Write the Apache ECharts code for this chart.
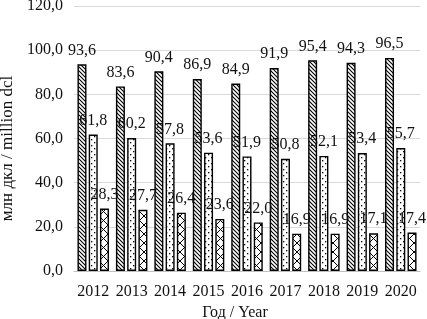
<!DOCTYPE html>
<html><head><meta charset="utf-8">
<script src="https://cdn.jsdelivr.net/npm/echarts@6/dist/echarts.min.js"></script>
<style>html,body{margin:0;padding:0;background:#fff}#c{width:427px;height:319px}</style>
</head><body><div id="c"></div>
<script>
var years = ['2012','2013','2014','2015','2016','2017','2018','2019','2020'];
var seriesA = [93.6, 83.6, 90.4, 86.9, 84.9, 91.9, 95.4, 94.3, 96.5];
var seriesB = [61.8, 60.2, 57.8, 53.6, 51.9, 50.8, 52.1, 53.4, 55.7];
var seriesC = [28.3, 27.7, 26.4, 23.6, 22.0, 16.9, 16.9, 17.1, 17.4];
var yTicks = [0, 20, 40, 60, 80, 100, 120];

function mk(w, h, draw) {
  var c = document.createElement('canvas'); c.width = w; c.height = h;
  var g = c.getContext('2d'); g.fillStyle = '#fff'; g.fillRect(0, 0, w, h);
  g.strokeStyle = '#000'; g.fillStyle = '#000'; draw(g); return c;
}
var hatch = mk(4, 4, function (g) {
  g.lineWidth = 1.1; g.beginPath();
  g.moveTo(-1, -1); g.lineTo(5, 5);
  g.moveTo(-1, 3); g.lineTo(1, 5);
  g.moveTo(3, -1); g.lineTo(5, 1);
  g.stroke();
});
var dots = mk(6, 6, function (g) {
  g.fillRect(1, 1, 1.3, 1.3); g.fillRect(4, 4, 1.3, 1.3);
});
var cross = mk(9, 9, function (g) {
  g.lineWidth = 1; g.beginPath();
  g.moveTo(0, 0); g.lineTo(9, 9); g.moveTo(9, 0); g.lineTo(0, 9); g.stroke();
});

var font = "'Liberation Serif','Times New Roman',serif";
function fmt(v) { return Number(v).toFixed(1).replace('.', ','); }
function mkSeries(data, pat) {
  return {
    type: 'bar', data: data, barWidth: 9, barGap: '25%',
    itemStyle: { color: { image: pat, repeat: 'repeat' }, borderColor: '#000', borderWidth: 1.4 },
    label: { show: true, position: 'top', distance: 6, color: '#111', fontFamily: font, fontSize: 16,
      formatter: function (p) { return fmt(p.value); } }
  };
}
var chart = echarts.init(document.getElementById('c'), null, { renderer: 'canvas' });
chart.setOption({
  animation: false,
  backgroundColor: '#fff',
  grid: { left: 74, right: 7, top: 6, bottom: 48, containLabel: false, outerBoundsMode: 'none' },
  xAxis: {
    type: 'category', data: years,
    name: 'Год / Year', nameLocation: 'middle', nameGap: 34,
    nameTextStyle: { fontFamily: font, fontSize: 16, color: '#111', padding: [0, 24, 0, 0] },
    axisTick: { show: false },
    axisLine: { lineStyle: { color: '#bfbfbf' } },
    axisLabel: { interval: 0, fontFamily: font, fontSize: 16, color: '#111', margin: 13 }
  },
  yAxis: {
    type: 'value', min: yTicks[0], max: yTicks[yTicks.length - 1], interval: 20,
    name: 'млн дкл / million dcl', nameLocation: 'middle', nameGap: 54,
    nameTextStyle: { fontFamily: font, fontSize: 17, color: '#111', padding: [0, 20, 0, 0] },
    axisLine: { show: false }, axisTick: { show: false },
    splitLine: { lineStyle: { color: '#d9d9d9' } },
    axisLabel: { fontFamily: font, fontSize: 16, color: '#111', margin: 11, formatter: fmt }
  },
  series: [mkSeries(seriesA, hatch), mkSeries(seriesB, dots), mkSeries(seriesC, cross)]
});
</script></body></html>
